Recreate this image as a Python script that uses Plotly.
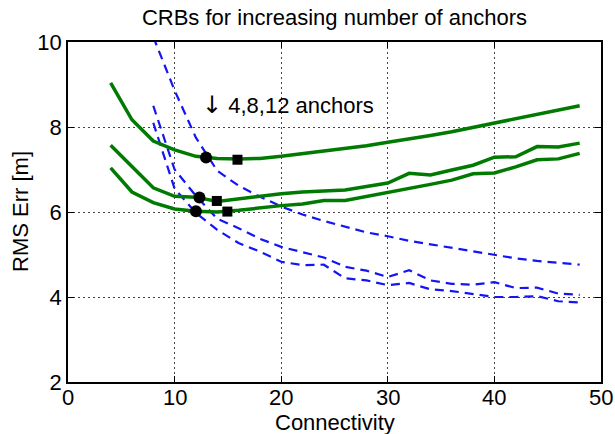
import plotly.graph_objects as go

# Connectivity values at which the bounds were evaluated
conn_green = [4, 6, 8, 10, 12, 14, 16, 18, 20, 22, 24, 26, 28, 30, 32, 34, 36, 38, 40, 42, 44, 46, 48]
conn_blue = [8, 10, 12, 14, 16, 18, 20, 22, 24, 26, 28, 30, 32, 34, 36, 38, 40, 42, 44, 46, 48]

# Solid green curves: 4, 8 and 12 anchors (RMS error, m)
green_4 = [9.04, 8.17, 7.67, 7.46, 7.31, 7.26, 7.25, 7.26, 7.31, 7.37, 7.43, 7.49, 7.56, 7.64,
           7.71, 7.80, 7.89, 7.99, 8.10, 8.20, 8.30, 8.40, 8.50]
green_8 = [7.57, 7.06, 6.57, 6.37, 6.35, 6.25, 6.31, 6.38, 6.43, 6.47, 6.50, 6.52, 6.60, 6.68,
           6.91, 6.87, 6.99, 7.10, 7.29, 7.30, 7.54, 7.53, 7.62]
green_12 = [7.04, 6.47, 6.22, 6.07, 6.02, 6.00, 6.04, 6.10, 6.15, 6.19, 6.27, 6.27, 6.37, 6.45,
            6.57, 6.65, 6.75, 6.90, 6.92, 7.06, 7.23, 7.25, 7.38]

# Dashed blue curves: 4, 8 and 12 anchors
blue_4 = [10.12, 8.86, 7.75, 6.97, 6.62, 6.36, 6.13, 5.94, 5.79, 5.65, 5.52, 5.43, 5.32, 5.24,
          5.16, 5.07, 5.00, 4.91, 4.85, 4.80, 4.76]
blue_8 = [8.50, 7.00, 6.38, 5.84, 5.62, 5.37, 5.18, 5.05, 4.93, 4.71, 4.62, 4.47, 4.63, 4.39,
          4.31, 4.29, 4.35, 4.21, 4.22, 4.08, 4.05]
blue_12 = [8.10, 6.55, 5.98, 5.58, 5.27, 5.07, 4.83, 4.75, 4.76, 4.44, 4.39, 4.28, 4.33, 4.18,
           4.14, 4.07, 4.00, 4.00, 4.02, 3.90, 3.87]

# Highlighted operating points
circle_x = [12.95, 12.33, 12.0]
circle_y = [7.28, 6.34, 6.02]
square_x = [15.9, 13.96, 14.95]
square_y = [7.23, 6.26, 6.01]

x_ticks = [0, 10, 20, 30, 40, 50]
y_ticks = [2, 4, 6, 8, 10]

FONT = "Liberation Sans, Arial, sans-serif"
FS = 22
GREEN = "rgb(0,122,0)"
BLUE = "rgb(20,20,245)"

fig = go.Figure()

for ys in (blue_4, blue_8, blue_12):
    fig.add_trace(go.Scatter(x=conn_blue, y=ys, mode="lines",
                             line=dict(color=BLUE, width=2.2, dash="9px,6px"),
                             showlegend=False, hoverinfo="skip"))

for ys in (green_4, green_8, green_12):
    fig.add_trace(go.Scatter(x=conn_green, y=ys, mode="lines",
                             line=dict(color=GREEN, width=3.5),
                             showlegend=False, hoverinfo="skip"))

fig.add_trace(go.Scatter(x=circle_x, y=circle_y, mode="markers",
                         marker=dict(symbol="circle", size=12, color="black"),
                         showlegend=False, hoverinfo="skip"))
fig.add_trace(go.Scatter(x=square_x, y=square_y, mode="markers",
                         marker=dict(symbol="square", size=10, color="black"),
                         showlegend=False, hoverinfo="skip"))

fig.add_annotation(x=12.4, y=8.52, xref="x", yref="y",
                   text="<span style='font-family:DejaVu Sans;font-size:24px'>\u2193</span> 4,8,12 anchors",
                   showarrow=False, xanchor="left", yanchor="middle",
                   font=dict(family=FONT, size=FS, color="black"))

# x tick labels sit tight under the frame, as in MATLAB output
for v in x_ticks:
    fig.add_annotation(x=v, y=0, xref="x", yref="paper", text=str(v),
                       showarrow=False, xanchor="center", yanchor="top", yshift=-1,
                       font=dict(family=FONT, size=FS, color="black"))

# Axis titles placed as annotations so their spacing stays fixed
fig.add_annotation(x=0.5, y=0, xref="paper", yref="paper", text="Connectivity",
                   showarrow=False, xanchor="center", yanchor="middle", yshift=-40,
                   font=dict(family=FONT, size=FS, color="black"))
fig.add_annotation(x=0, y=0.5, xref="paper", yref="paper", text="RMS Err [m]",
                   showarrow=False, xanchor="center", yanchor="middle", xshift=-48,
                   textangle=-90, font=dict(family=FONT, size=FS, color="black"))

axis_common = dict(
    showline=True, linecolor="black", linewidth=1.5, mirror="ticks",
    ticks="inside", ticklen=6, tickwidth=1, tickcolor="black",
    showgrid=True, gridcolor="#444444", gridwidth=1, griddash="2px,3px",
    zeroline=False, automargin=False,
    tickfont=dict(family=FONT, size=FS, color="black"),
)

fig.update_xaxes(range=[0, 50], tickvals=x_ticks, showticklabels=False, **axis_common)
fig.update_yaxes(range=[2, 10], tickvals=y_ticks, ticktext=[str(v) for v in y_ticks],
                 **axis_common)

fig.update_layout(
    width=615, height=434,
    margin=dict(l=68, r=14, t=42, b=52),
    paper_bgcolor="white", plot_bgcolor="white",
    title=dict(text="CRBs for increasing number of anchors", x=0.5, xref="paper",
               y=1 - 17 / 434, yref="container", yanchor="middle",
               font=dict(family=FONT, size=FS, color="black")),
)

fig.write_html("out.html")
